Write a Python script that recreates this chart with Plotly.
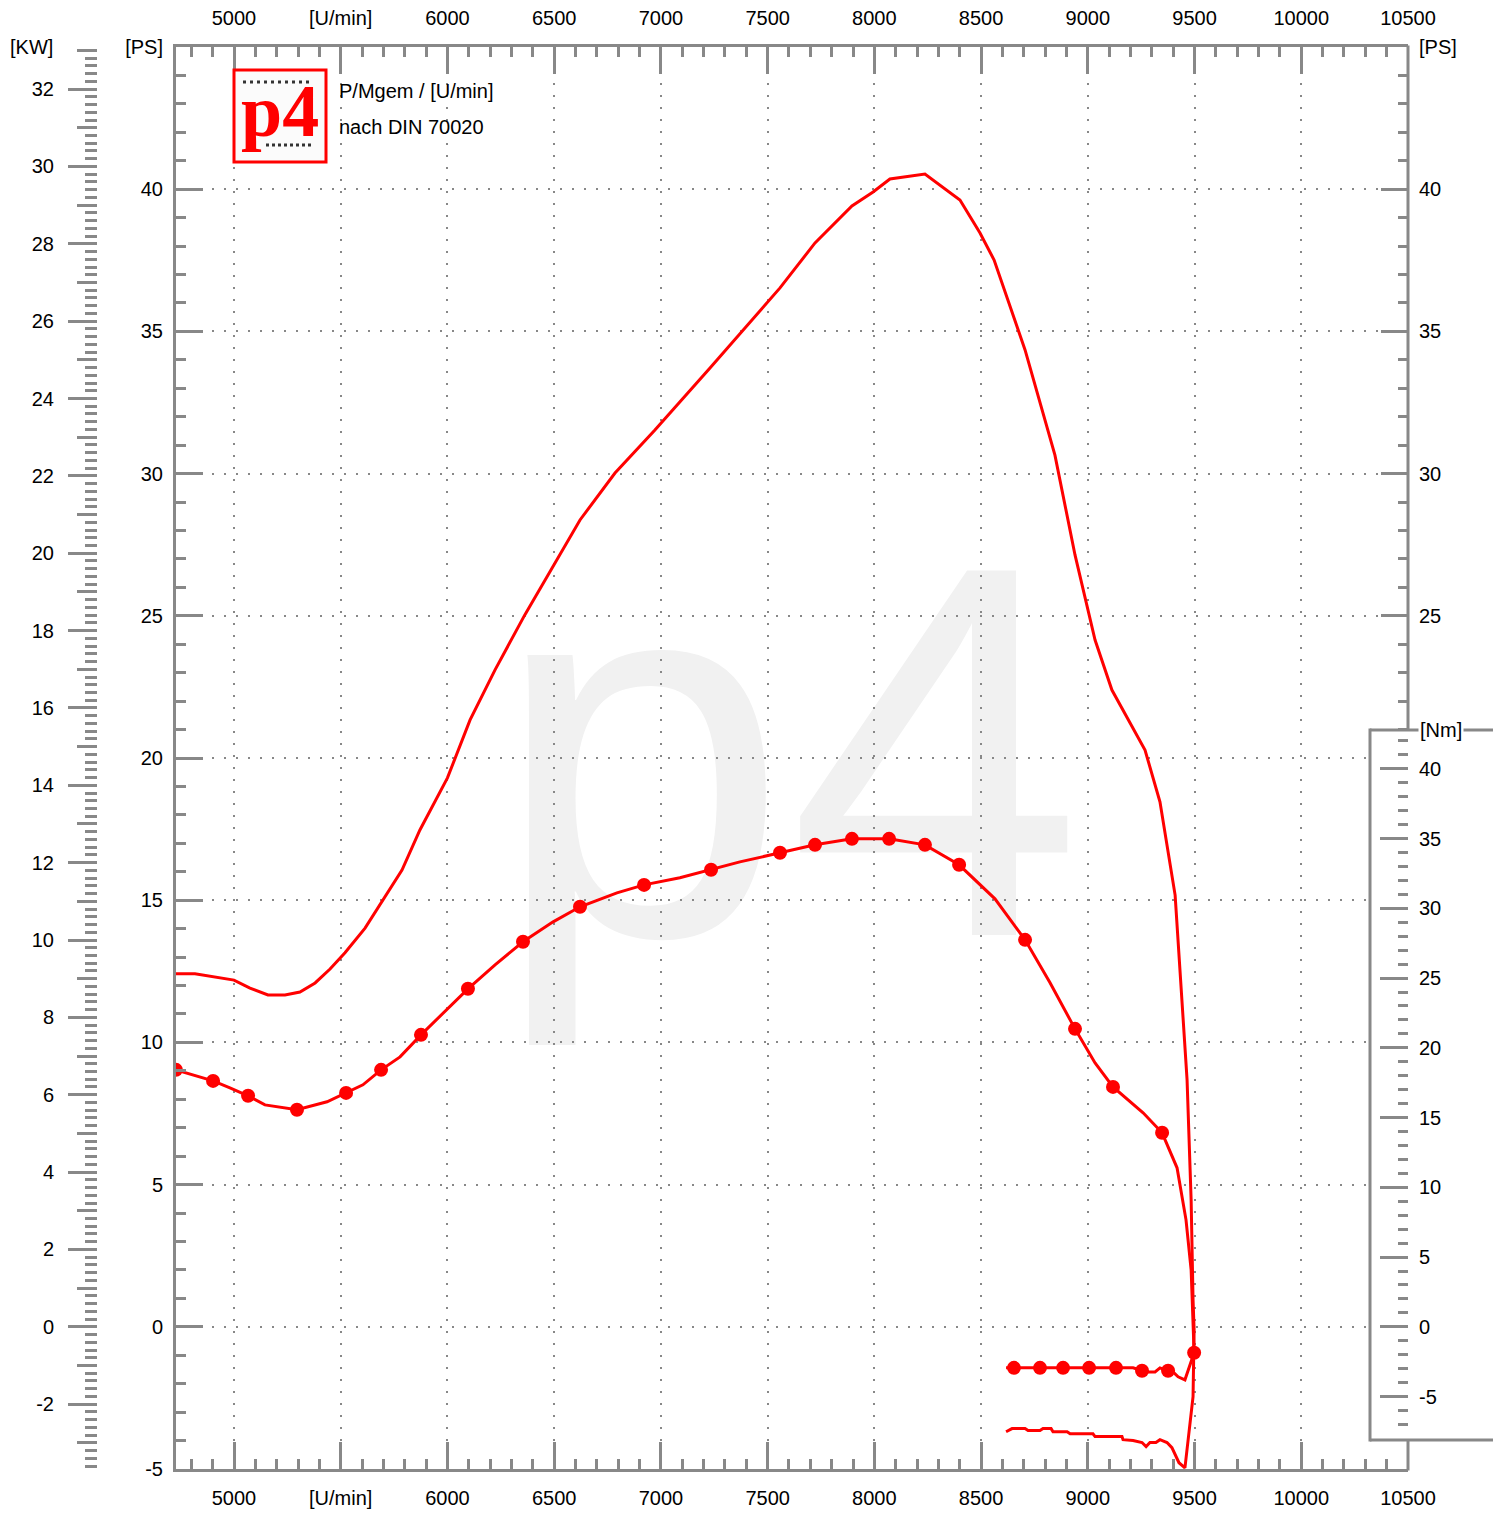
import plotly.graph_objects as go

# ---------------- data ----------------
power_rpm = [4728, 4817, 5000, 5075, 5159, 5239, 5309, 5380, 5450, 5520, 5614, 5698, 5787, 5871,
             6000, 6106, 6223, 6363, 6499, 6621, 6785, 6972, 7230, 7394, 7558, 7722, 7895, 7994,
             8073, 8237, 8401, 8495, 8561, 8706, 8846, 8940, 9034, 9113, 9268, 9338, 9409, 9465,
             9484, 9493, 9498, 9493, 9455, 9427, 9413, 9394, 9371, 9338, 9319, 9291, 9273, 9254,
             9212, 9165, 9160, 9034, 9024, 8917, 8903, 8837, 8828, 8790, 8776, 8720, 8706, 8645, 8617]
power_ps = [12.41, 12.41, 12.19, 11.91, 11.67, 11.67, 11.77, 12.09, 12.58, 13.15, 14.02, 15.01, 16.06, 17.47,
            19.30, 21.34, 23.10, 25.04, 26.79, 28.37, 30.02, 31.53, 33.71, 35.12, 36.53, 38.11, 39.41, 39.90,
            40.36, 40.53, 39.62, 38.46, 37.51, 34.35, 30.65, 27.14, 24.15, 22.39, 20.28, 18.46, 15.18, 8.68,
            4.46, 0.95, -0.11, -2.46, -4.96, -4.78, -4.57, -4.25, -4.07, -3.97, -4.07, -4.07, -4.21, -4.07,
            -4.00, -3.97, -3.86, -3.86, -3.76, -3.76, -3.69, -3.69, -3.58, -3.58, -3.65, -3.65, -3.58, -3.58, -3.69]

torque_rpm = [4728, 4902, 4981, 5066, 5145, 5295, 5436, 5525, 5604, 5689, 5778, 5876, 6012, 6096,
              6223, 6354, 6495, 6621, 6794, 6921, 7089, 7235, 7370, 7558, 7722, 7895, 8069, 8237,
              8397, 8565, 8706, 8823, 8940, 9034, 9118, 9259, 9348, 9418, 9460, 9484, 9498, 9455,
              9423, 9399, 9376, 9338, 9315, 9282, 9254, 9212, 9132, 9006, 8884, 8776, 8654, 8617]
torque_nm = [18.42, 17.63, 17.13, 16.56, 15.91, 15.56, 16.13, 16.77, 17.35, 18.42, 19.35, 20.93, 22.94, 24.23,
             25.95, 27.60, 29.03, 30.11, 31.11, 31.68, 32.19, 32.76, 33.33, 33.98, 34.55, 34.98, 34.98, 34.55,
             33.12, 30.68, 27.74, 24.66, 21.36, 18.92, 17.20, 15.34, 13.91, 11.40, 7.67, 4.09, -1.86, -3.80,
             -3.58, -3.23, -3.15, -2.94, -3.23, -3.23, -3.15, -2.94, -2.94, -2.94, -2.94, -2.94, -2.94, -2.94]

dot_rpm = [4728, 4902, 5066, 5295, 5525, 5689, 5876, 6096, 6354, 6621, 6921, 7235, 7558, 7722, 7895,
           8069, 8237, 8397, 8706, 8940, 9118, 9348, 9498, 9376, 9254, 9132, 9006, 8884, 8776, 8654]
dot_nm = [18.42, 17.63, 16.56, 15.56, 16.77, 18.42, 20.93, 24.23, 27.60, 30.11, 31.68, 32.76, 33.98, 34.55, 34.98,
          34.98, 34.55, 33.12, 27.74, 21.36, 17.20, 13.91, -1.86, -3.15, -3.15, -2.94, -2.94, -2.94, -2.94, -2.94]

rpm_ticks = list(range(5000, 10501, 500))
rpm_labels = ["[U/min]" if v == 5500 else str(v) for v in rpm_ticks]
ps_ticks = list(range(-5, 46, 5))
ps_labels = ["[PS]" if v == 45 else str(v) for v in ps_ticks]
ps_right_ticks = [25, 30, 35, 40, 45]
ps_right_labels = ["25", "30", "35", "40", "[PS]"]
ps_right_minor = [v for v in range(21, 45) if v % 5 != 0]
kw_ticks = list(range(-2, 33, 2))
kw_labels = [str(v) for v in kw_ticks]
nm_ticks = list(range(-5, 41, 5))
nm_labels = [str(v) for v in nm_ticks]
nm_minor = [v for v in range(-7, 43) if v % 5 != 0]

# ---------------- layout geometry ----------------
W, H = 1506, 1517
def fx(px):
    return px / W
def fy(py):
    return 1 - py / H

X_L, X_R, Y_T, Y_B = 176, 1408, 47, 1469
RPM_MIN, RPM_MAX = 4728.3, 10500
PS_MIN, PS_MAX = -5, 45
KW_PER_PS = 1 / 1.36
NM_MIN, NM_MAX = -10.19, 91.74

def rpm_at(px):
    return RPM_MIN + (px - X_L) / (X_R - X_L) * (RPM_MAX - RPM_MIN)
def ps_at(py):
    return PS_MAX - (py - Y_T) / (Y_B - Y_T) * (PS_MAX - PS_MIN)

GRAY = "#888888"
RED = "#ff0000"
FONT = "Liberation Sans, Arial, sans-serif"
tickfont = dict(family=FONT, size=20, color="black")

fig = go.Figure()

fig.add_trace(go.Scatter(x=power_rpm, y=power_ps, mode="lines",
                         line=dict(color=RED, width=3), xaxis="x", yaxis="y",
                         hoverinfo="skip", showlegend=False))
fig.add_trace(go.Scatter(x=torque_rpm, y=torque_nm, mode="lines",
                         line=dict(color=RED, width=3), xaxis="x", yaxis="y5",
                         hoverinfo="skip", showlegend=False))
fig.add_trace(go.Scatter(x=dot_rpm, y=dot_nm, mode="markers",
                         marker=dict(color=RED, size=14), xaxis="x", yaxis="y5",
                         hoverinfo="skip", showlegend=False))
# dummy traces so the extra axes are drawn
for xa, ya in [("x2", "y"), ("x", "y2"), ("x", "y3"), ("x", "y4")]:
    fig.add_trace(go.Scatter(x=[None], y=[None], xaxis=xa, yaxis=ya,
                             hoverinfo="skip", showlegend=False))

common_x = dict(range=[RPM_MIN, RPM_MAX], tickmode="array", tickvals=rpm_ticks, ticktext=rpm_labels,
                ticks="inside", ticklen=27, tickwidth=3, tickcolor=GRAY,
                showline=True, linewidth=3, linecolor=GRAY, zeroline=False,
                tickfont=tickfont, automargin=False,
                minor=dict(tickmode="linear", tick0=0, dtick=100, ticks="inside", ticklen=10,
                           tickwidth=3, tickcolor=GRAY, showgrid=False))

fig.update_layout(
    width=W, height=H,
    margin=dict(l=0, r=0, t=0, b=0, autoexpand=False),
    paper_bgcolor="white", plot_bgcolor="white",
    showlegend=False,
    xaxis=dict(domain=[fx(X_L), fx(X_R)], anchor="y", side="bottom",
               showgrid=True, gridcolor=GRAY, gridwidth=2, griddash="2px,10px",
               ticklabelstandoff=9, **common_x),
    xaxis2=dict(overlaying="x", anchor="y", side="top", showgrid=False,
                ticklabelstandoff=11, **common_x),
    yaxis=dict(domain=[fy(Y_B), fy(Y_T)], anchor="x", side="left", range=[PS_MIN, PS_MAX],
               tickmode="array", tickvals=ps_ticks, ticktext=ps_labels,
               ticks="inside", ticklen=27, tickwidth=3, tickcolor=GRAY,
               showline=True, linewidth=3, linecolor=GRAY, zeroline=False,
               showgrid=True, gridcolor=GRAY, gridwidth=2, griddash="2px,10px",
               tickfont=tickfont, ticklabelstandoff=6, automargin=False,
               minor=dict(tickmode="linear", tick0=0, dtick=1, ticks="inside", ticklen=10,
                          tickwidth=3, tickcolor=GRAY, showgrid=False)),
    yaxis2=dict(overlaying="y", anchor="x", side="right", range=[PS_MIN, PS_MAX],
                tickmode="array", tickvals=ps_right_ticks, ticktext=ps_right_labels,
                ticks="inside", ticklen=27, tickwidth=3, tickcolor=GRAY,
                showline=False, zeroline=False, showgrid=False,
                tickfont=tickfont, ticklabelstandoff=10, automargin=False,
                minor=dict(tickmode="array", tickvals=ps_right_minor, ticks="inside", ticklen=10,
                           tickwidth=3, tickcolor=GRAY, showgrid=False)),
    yaxis3=dict(overlaying="y", anchor="free", position=fx(97), side="left",
                range=[PS_MIN * KW_PER_PS, PS_MAX * KW_PER_PS],
                tickmode="array", tickvals=kw_ticks, ticktext=kw_labels,
                ticks="outside", ticklen=29, tickwidth=3, tickcolor=GRAY,
                showline=False, zeroline=False, showgrid=False,
                tickfont=tickfont, ticklabelstandoff=10, automargin=False,
                minor=dict(tickmode="linear", tick0=0, dtick=0.2, ticks="outside", ticklen=12,
                           tickwidth=3, tickcolor=GRAY, showgrid=False)),
    yaxis4=dict(overlaying="y", anchor="free", position=fx(97), side="left",
                range=[PS_MIN * KW_PER_PS, PS_MAX * KW_PER_PS],
                tickmode="linear", tick0=0, dtick=1,
                ticks="outside", ticklen=20, tickwidth=3, tickcolor=GRAY, automargin=False,
                showline=False, zeroline=False, showgrid=False, showticklabels=False),
    yaxis5=dict(overlaying="y", anchor="x", side="right", range=[NM_MIN, NM_MAX],
                tickmode="array", tickvals=nm_ticks, ticktext=nm_labels,
                ticks="inside", ticklen=28, tickwidth=3, tickcolor=GRAY,
                showline=False, zeroline=False, showgrid=False,
                tickfont=tickfont, ticklabelstandoff=10, automargin=False,
                minor=dict(tickmode="array", tickvals=nm_minor, ticks="inside", ticklen=10,
                           tickwidth=3, tickcolor=GRAY, showgrid=False)),
)

shapes = []
# watermark
shapes.append(dict(type="rect", xref="paper", yref="paper",
                   x0=fx(688), x1=fx(888), y0=fy(803), y1=fy(603),
                   line=dict(width=0), fillcolor="rgba(0,0,0,0)", layer="below",
                   label=dict(text="p4", textposition="middle center",
                              font=dict(family=FONT, size=530, color="#f1f1f1"))))
# white box covering grid in the Nm area (between grid and traces)
shapes.append(dict(type="rect", xref="x", yref="y",
                   x0=rpm_at(1371.5), x1=rpm_at(1420),
                   y0=ps_at(1438.5), y1=ps_at(731.5),
                   line=dict(width=0), fillcolor="white", layer="between"))
# right border segments and Nm box outline
def seg(x0, y0, x1, y1):
    return dict(type="line", xref="paper", yref="paper", x0=fx(x0), y0=fy(y0), x1=fx(x1), y1=fy(y1),
                line=dict(color=GRAY, width=3), layer="above")
shapes += [seg(1408, 45.5, 1408, 730), seg(1408, 1440, 1408, 1470.5),
           seg(1370, 730, 1493, 730), seg(1370, 1440, 1493, 1440), seg(1370, 728.5, 1370, 1441.5)]
# logo
shapes.append(dict(type="rect", xref="paper", yref="paper",
                   x0=fx(234), x1=fx(326), y0=fy(162), y1=fy(70),
                   line=dict(color=RED, width=3), fillcolor="#fbfbfb", layer="above"))
shapes.append(dict(type="line", xref="paper", yref="paper", x0=fx(243), x1=fx(311), y0=fy(82), y1=fy(82),
                   line=dict(color="#333333", width=3, dash="3px,4px"), layer="above"))
shapes.append(dict(type="line", xref="paper", yref="paper", x0=fx(266), x1=fx(314), y0=fy(145), y1=fy(145),
                   line=dict(color="#333333", width=3, dash="3px,3px"), layer="above"))
fig.update_layout(shapes=shapes)

ann = []
ann.append(dict(x=fx(280), y=fy(111), xref="paper", yref="paper", text="<b>p4</b>", showarrow=False,
                xanchor="center", yanchor="middle",
                font=dict(family="Liberation Serif, Times New Roman, serif", size=74, color=RED)))
ann.append(dict(x=fx(337), y=fy(91), xref="paper", yref="paper", text="P/Mgem / [U/min]", showarrow=False,
                xanchor="left", yanchor="middle", font=tickfont))
ann.append(dict(x=fx(337), y=fy(127), xref="paper", yref="paper", text="nach DIN 70020", showarrow=False,
                xanchor="left", yanchor="middle", font=tickfont))
ann.append(dict(x=fx(55), y=fy(47), xref="paper", yref="paper", text="[KW]", showarrow=False,
                xanchor="right", yanchor="middle", font=tickfont))
ann.append(dict(x=fx(1441), y=fy(730), xref="paper", yref="paper", text="[Nm]", showarrow=False,
                xanchor="center", yanchor="middle", font=tickfont, bgcolor="white", borderpad=1))
fig.update_layout(annotations=ann)

fig.write_html("out.html", include_plotlyjs=True, full_html=True,
               config={"displayModeBar": False},
               post_script="document.body.style.margin='0';document.body.style.overflow='hidden';")
